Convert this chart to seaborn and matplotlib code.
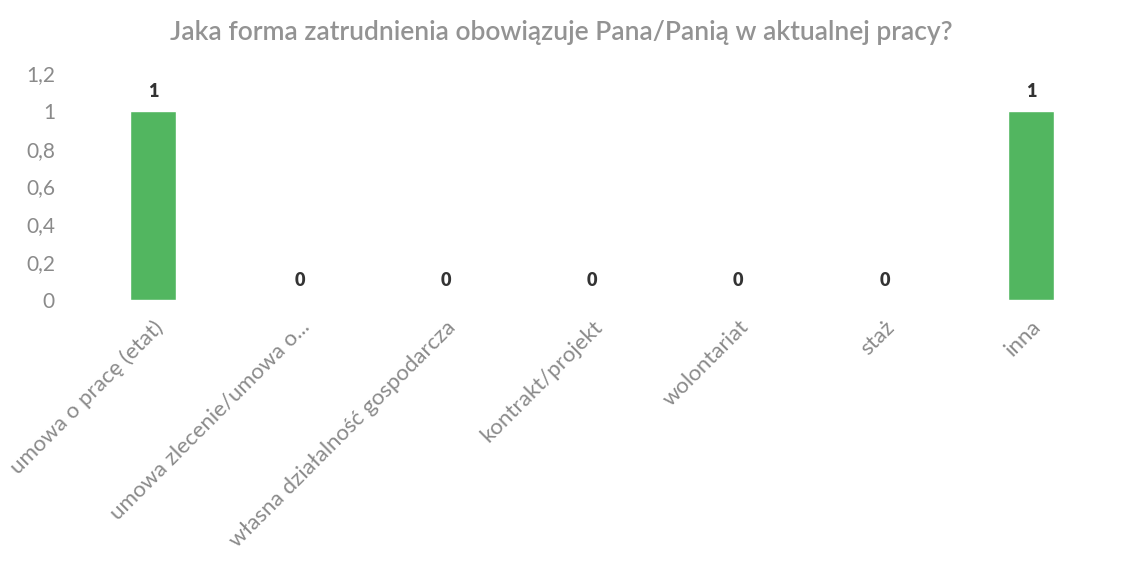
import matplotlib
matplotlib.use("Agg")
import matplotlib.pyplot as plt
import pandas as pd
import seaborn as sns

# Data
categories = ["umowa o pracę (etat)", "umowa zlecenie/umowa o...",
              "własna działalność gospodarcza", "kontrakt/projekt",
              "wolontariat", "staż", "inna"]
counts = [1, 0, 0, 0, 0, 0, 1]
y_ticks = [0, 0.2, 0.4, 0.6, 0.8, 1, 1.2]
y_tick_labels = ["0", "0,2", "0,4", "0,6", "0,8", "1", "1,2"]
title = "Jaka forma zatrudnienia obowiązuje Pana/Panią w aktualnej pracy?"

df = pd.DataFrame({"forma": categories, "liczba": counts})

sns.set_style("white")
plt.rcParams["font.family"] = ["Lato", "DejaVu Sans"]

fig = plt.figure(figsize=(11.22, 5.62), dpi=100)
ax = fig.add_axes([0.0713, 0.466, 0.9127, 0.404])

sns.barplot(data=df, x="forma", y="liczba", color="#52b660",
            width=0.31, saturation=1, ax=ax)

ax.set_ylim(0, 1.2)
ax.set_xlim(-0.5, len(categories) - 0.5)
ax.set_yticks(y_ticks)
ax.set_yticklabels(y_tick_labels, color="#8a8a8a", fontsize=15)
ax.set_xticks(range(len(categories)))
ax.set_xticklabels(categories, rotation=45, ha="right",
                   rotation_mode="anchor", color="#8a8a8a", fontsize=16)
ax.tick_params(axis="y", length=0, pad=18)
ax.tick_params(axis="x", length=0, pad=12)
ax.set_xlabel("")
ax.set_ylabel("")
sns.despine(ax=ax, left=True, bottom=True)

for i, v in enumerate(counts):
    ax.annotate(str(v), (i, v), xytext=(0, 8), textcoords="offset points",
                ha="center", va="bottom", fontsize=13, fontweight="heavy",
                color="#333333")

fig.suptitle(title, y=0.965, fontsize=19, color="#939393",
             fontweight="semibold")

fig.savefig("out.png", dpi=100)
